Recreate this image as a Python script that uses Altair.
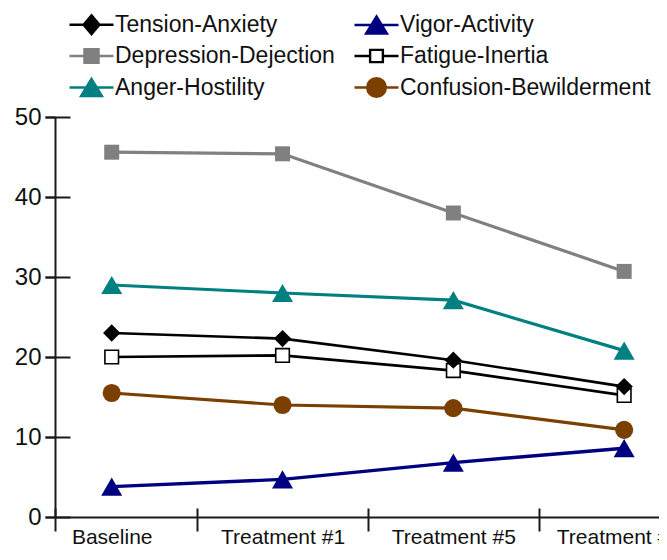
import json
import altair as alt
import pandas as pd

# ---------------- data ----------------
timepoints = ["Baseline", "Treatment #1", "Treatment #5", "Treatment #10"]
series_names = [
    "Tension-Anxiety", "Vigor-Activity",
    "Depression-Dejection", "Fatigue-Inertia",
    "Anger-Hostility", "Confusion-Bewilderment",
]
tension = [23.0, 22.3, 19.6, 16.3]
vigor = [3.8, 4.7, 6.8, 8.6]
depression = [45.6, 45.4, 38.0, 30.7]
fatigue = [20.0, 20.2, 18.3, 15.2]
anger = [29.0, 28.0, 27.1, 20.8]
confusion = [15.5, 14.0, 13.6, 10.9]
y_ticks = [0, 10, 20, 30, 40, 50]

series_values = dict(zip(series_names, [tension, vigor, depression, fatigue, anger, confusion]))

rows = []
for s in series_names:
    for i, (t, v) in enumerate(zip(timepoints, series_values[s])):
        rows.append({"series": s, "time": t, "idx": i, "value": v})
df = pd.DataFrame(rows)

# ---------------- styles ----------------
FONT = "Liberation Sans"
AX = "#1a1a1a"
stroke_colors = {
    "Tension-Anxiety": "#000000",
    "Vigor-Activity": "#000080",
    "Depression-Dejection": "#808080",
    "Fatigue-Inertia": "#000000",
    "Anger-Hostility": "#008080",
    "Confusion-Bewilderment": "#7B3F00",
}
fill_colors = dict(stroke_colors)
fill_colors["Fatigue-Inertia"] = "#FFFFFF"
line_widths = {
    "Tension-Anxiety": 2.6,
    "Vigor-Activity": 3.4,
    "Depression-Dejection": 3.2,
    "Fatigue-Inertia": 2.6,
    "Anger-Hostility": 3.2,
    "Confusion-Bewilderment": 3.2,
}
point_shapes = {
    "Tension-Anxiety": "diamond",
    "Vigor-Activity": "triangle-up",
    "Depression-Dejection": "square",
    "Fatigue-Inertia": "square",
    "Anger-Hostility": "triangle-up",
    "Confusion-Bewilderment": "circle",
}
point_sizes = {
    "Tension-Anxiety": 300,
    "Vigor-Activity": 440,
    "Depression-Dejection": 225,
    "Fatigue-Inertia": 185,
    "Anger-Hostility": 440,
    "Confusion-Bewilderment": 330,
}
# legend glyphs: line with marker (unit = 11 px, marker centred at x=1)
legend_paths = {
    "Tension-Anxiety": "M-1,0H3M1,-0.85L1.72,0L1,0.85L0.28,0Z",
    "Vigor-Activity": "M-1,0H3M1,-0.78L1.95,0.78H0.05Z",
    "Depression-Dejection": "M-1,0H3M0.36,-0.62H1.64V0.62H0.36Z",
    "Fatigue-Inertia": "M-1,0H0.42M1.58,0H3M0.42,-0.56H1.58V0.56H0.42Z",
    "Anger-Hostility": "M-1,0H3M1,-0.78L1.95,0.78H0.05Z",
    "Confusion-Bewilderment": "M-1,0H3M0.15,0A0.85,0.85 0 1,0 1.85,0A0.85,0.85 0 1,0 0.15,0Z",
}
# legend is filled column by column: first column, then second
legend_order = [
    "Tension-Anxiety", "Depression-Dejection", "Anger-Hostility",
    "Vigor-Activity", "Fatigue-Inertia", "Confusion-Bewilderment",
]

# ---------------- scales ----------------
x_min, x_max = -0.332, 3.204
xscale = alt.Scale(domain=[x_min, x_max], nice=False, zero=False)
yscale = alt.Scale(domain=[0, 50], nice=False, zero=False)

base = alt.Chart(df)
empty = base.transform_filter("false")

layers = []

legend = alt.Legend(
    title=None, columns=2, orient="none", legendX=13, legendY=-105,
    symbolSize=484, symbolStrokeWidth=2.4, labelFont=FONT, labelFontSize=23,
    labelColor="#111111", labelOffset=22, rowPadding=4.5, columnPadding=14,
    padding=0, symbolOpacity=1, labelLimit=400,
)
dom = legend_order
axis_layer = empty.mark_point(opacity=1, filled=True).encode(
    x=alt.X("idx:Q", scale=xscale, title=None, axis=alt.Axis(
        orient="bottom", values=[0, 1, 2, 3],
        labelExpr=json.dumps(timepoints) + "[datum.value]",
        ticks=False, tickSize=0, domain=True, domainColor=AX, domainWidth=2,
        labelFont=FONT, labelFontSize=21, labelColor="#111111", labelPadding=9,
        labelFlush=False, labelOverlap=False, labelBound=False, labelLimit=400,
        grid=False)),
    y=alt.Y("value:Q", scale=yscale, title=None, axis=alt.Axis(
        orient="left", values=y_ticks, tickSize=10, tickWidth=2, tickColor=AX,
        domain=True, domainColor=AX, domainWidth=2, labelFont=FONT,
        labelFontSize=24, labelColor="#111111", labelPadding=4, grid=False,
        labelFlush=False)),
    shape=alt.Shape("series:N", scale=alt.Scale(domain=dom, range=[legend_paths[s] for s in dom]), legend=legend),
    stroke=alt.Stroke("series:N", scale=alt.Scale(domain=dom, range=[stroke_colors[s] for s in dom]), legend=legend),
    fill=alt.Fill("series:N", scale=alt.Scale(domain=dom, range=[fill_colors[s] for s in dom]), legend=legend),
)
layers.append(axis_layer)

# crossing tick marks (second axis pair)
tick_layer = empty.mark_point(opacity=0).encode(
    x=alt.X("idx:Q", scale=xscale, title=None, axis=alt.Axis(
        orient="bottom", values=[x_min, 0.5, 1.5, 2.5], labels=False, domain=False,
        tickSize=23, offset=-9, tickWidth=2, tickColor=AX, grid=False)),
    y=alt.Y("value:Q", scale=yscale, title=None, axis=alt.Axis(
        orient="left", values=y_ticks, labels=False, domain=False,
        tickSize=25, offset=-15, tickWidth=2, tickColor=AX, grid=False)),
)
layers.append(tick_layer)

xenc = alt.X("idx:Q", scale=xscale, axis=None)
yenc = alt.Y("value:Q", scale=yscale, axis=None)

for s in series_names:
    layers.append(
        base.transform_filter(alt.datum.series == s)
        .mark_line(color=stroke_colors[s], strokeWidth=line_widths[s])
        .encode(x=xenc, y=yenc)
    )

point_order = ["Depression-Dejection", "Anger-Hostility", "Fatigue-Inertia",
               "Tension-Anxiety", "Confusion-Bewilderment", "Vigor-Activity"]
for s in point_order:
    sw = 1.6 if s == "Fatigue-Inertia" else 0
    layers.append(
        base.transform_filter(alt.datum.series == s)
        .mark_point(shape=point_shapes[s], size=point_sizes[s], fill=fill_colors[s],
                    stroke=stroke_colors[s], strokeWidth=sw, opacity=1, filled=True)
        .encode(x=xenc, y=yenc)
    )

chart = (
    alt.layer(*layers)
    .resolve_axis(x="independent", y="independent")
    .properties(
        width=604, height=400,
        padding={"left": 47, "top": 109, "right": 0, "bottom": 31},
        autosize=alt.AutoSizeParams(type="none"),
        background="#ffffff",
    )
    .configure_view(stroke=None)
)

chart.save("out.html", embed_options={"renderer": "svg", "actions": False})
